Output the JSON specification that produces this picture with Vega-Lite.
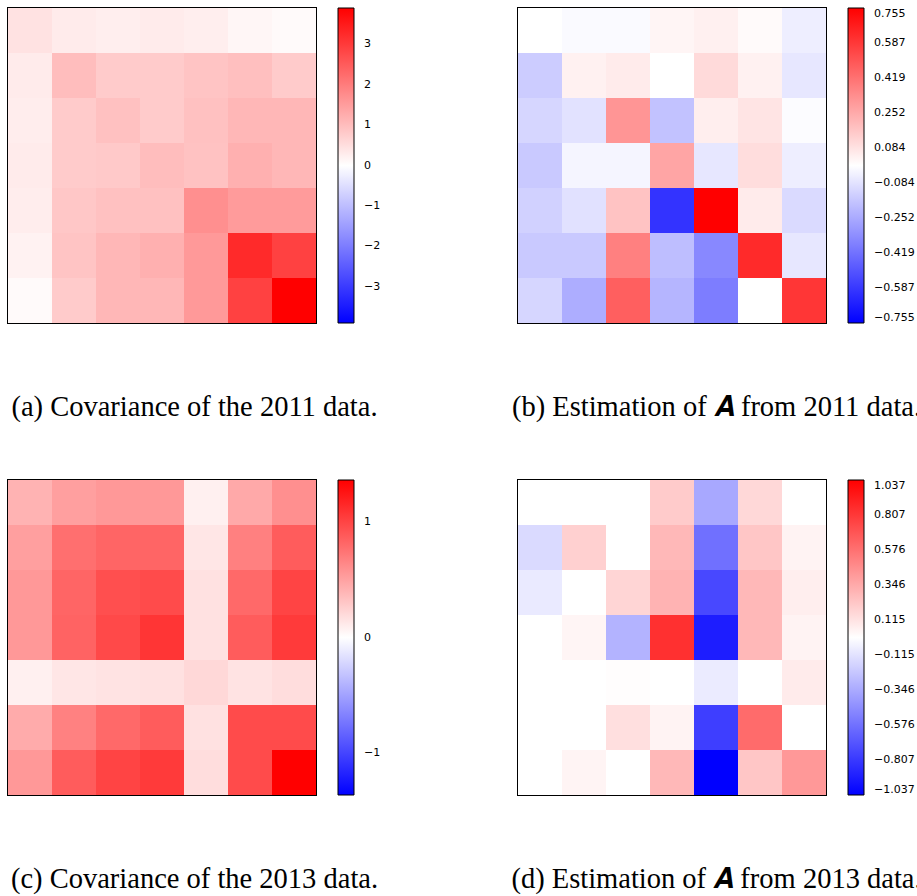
{
  "$schema": "https://vega.github.io/schema/vega-lite/v6.json",
  "padding": {"left": 7, "top": 7, "right": 0, "bottom": 0},
  "background": "white",
  "config": {
    "view": {"stroke": "black", "strokeWidth": 2},
    "legend": {"labelFont": "DejaVu Sans", "labelFontSize": 11, "labelColor": "black", "gradientLength": 315, "gradientThickness": 16, "gradientStrokeColor": "black", "gradientStrokeWidth": 1, "offset": 22, "padding": 0},
    "title": {"font": "Liberation Serif", "fontSize": 28.5, "fontWeight": "normal", "color": "black", "orient": "bottom", "anchor": "middle", "frame": "bounds", "baseline": "top", "offset": 69}
  },
  "datasets": {
    "a": [
      {"r":0,"c":0,"v":0.45},{"r":0,"c":1,"v":0.3},{"r":0,"c":2,"v":0.26},{"r":0,"c":3,"v":0.3},{"r":0,"c":4,"v":0.26},{"r":0,"c":5,"v":0.13},{"r":0,"c":6,"v":0.08},
      {"r":1,"c":0,"v":0.3},{"r":1,"c":1,"v":1.0},{"r":1,"c":2,"v":0.8},{"r":1,"c":3,"v":0.8},{"r":1,"c":4,"v":0.9},{"r":1,"c":5,"v":0.97},{"r":1,"c":6,"v":0.8},
      {"r":2,"c":0,"v":0.27},{"r":2,"c":1,"v":0.8},{"r":2,"c":2,"v":0.94},{"r":2,"c":3,"v":0.8},{"r":2,"c":4,"v":0.95},{"r":2,"c":5,"v":1.1},{"r":2,"c":6,"v":1.1},
      {"r":3,"c":0,"v":0.3},{"r":3,"c":1,"v":0.8},{"r":3,"c":2,"v":0.83},{"r":3,"c":3,"v":1.0},{"r":3,"c":4,"v":0.93},{"r":3,"c":5,"v":1.2},{"r":3,"c":6,"v":1.1},
      {"r":4,"c":0,"v":0.27},{"r":4,"c":1,"v":0.85},{"r":4,"c":2,"v":0.95},{"r":4,"c":3,"v":0.95},{"r":4,"c":4,"v":1.71},{"r":4,"c":5,"v":1.53},{"r":4,"c":6,"v":1.53},
      {"r":5,"c":0,"v":0.2},{"r":5,"c":1,"v":0.9},{"r":5,"c":2,"v":1.1},{"r":5,"c":3,"v":1.2},{"r":5,"c":4,"v":1.55},{"r":5,"c":5,"v":3.25},{"r":5,"c":6,"v":2.9},
      {"r":6,"c":0,"v":0.08},{"r":6,"c":1,"v":0.8},{"r":6,"c":2,"v":1.1},{"r":6,"c":3,"v":1.1},{"r":6,"c":4,"v":1.55},{"r":6,"c":5,"v":2.9},{"r":6,"c":6,"v":3.89}
    ],
    "b": [
      {"r":0,"c":0,"v":0.0},{"r":0,"c":1,"v":-0.015},{"r":0,"c":2,"v":-0.015},{"r":0,"c":3,"v":0.03},{"r":0,"c":4,"v":0.045},{"r":0,"c":5,"v":0.015},{"r":0,"c":6,"v":-0.05},
      {"r":1,"c":0,"v":-0.15},{"r":1,"c":1,"v":0.04},{"r":1,"c":2,"v":0.06},{"r":1,"c":3,"v":0.0},{"r":1,"c":4,"v":0.11},{"r":1,"c":5,"v":0.04},{"r":1,"c":6,"v":-0.07},
      {"r":2,"c":0,"v":-0.12},{"r":2,"c":1,"v":-0.085},{"r":2,"c":2,"v":0.314},{"r":2,"c":3,"v":-0.18},{"r":2,"c":4,"v":0.05},{"r":2,"c":5,"v":0.08},{"r":2,"c":6,"v":-0.01},
      {"r":3,"c":0,"v":-0.16},{"r":3,"c":1,"v":-0.03},{"r":3,"c":2,"v":-0.03},{"r":3,"c":3,"v":0.266},{"r":3,"c":4,"v":-0.07},{"r":3,"c":5,"v":0.1},{"r":3,"c":6,"v":-0.05},
      {"r":4,"c":0,"v":-0.137},{"r":4,"c":1,"v":-0.09},{"r":4,"c":2,"v":0.178},{"r":4,"c":3,"v":-0.604},{"r":4,"c":4,"v":0.755},{"r":4,"c":5,"v":0.06},{"r":4,"c":6,"v":-0.11},
      {"r":5,"c":0,"v":-0.16},{"r":5,"c":1,"v":-0.16},{"r":5,"c":2,"v":0.377},{"r":5,"c":3,"v":-0.192},{"r":5,"c":4,"v":-0.352},{"r":5,"c":5,"v":0.63},{"r":5,"c":6,"v":-0.07},
      {"r":6,"c":0,"v":-0.12},{"r":6,"c":1,"v":-0.243},{"r":6,"c":2,"v":0.474},{"r":6,"c":3,"v":-0.219},{"r":6,"c":4,"v":-0.385},{"r":6,"c":5,"v":0.0},{"r":6,"c":6,"v":0.595}
    ],
    "c": [
      {"r":0,"c":0,"v":0.405},{"r":0,"c":1,"v":0.51},{"r":0,"c":2,"v":0.55},{"r":0,"c":3,"v":0.55},{"r":0,"c":4,"v":0.08},{"r":0,"c":5,"v":0.46},{"r":0,"c":6,"v":0.6},
      {"r":1,"c":0,"v":0.51},{"r":1,"c":1,"v":0.77},{"r":1,"c":2,"v":0.82},{"r":1,"c":3,"v":0.82},{"r":1,"c":4,"v":0.135},{"r":1,"c":5,"v":0.68},{"r":1,"c":6,"v":0.87},
      {"r":2,"c":0,"v":0.55},{"r":2,"c":1,"v":0.82},{"r":2,"c":2,"v":0.94},{"r":2,"c":3,"v":0.96},{"r":2,"c":4,"v":0.16},{"r":2,"c":5,"v":0.8},{"r":2,"c":6,"v":1.0},
      {"r":3,"c":0,"v":0.55},{"r":3,"c":1,"v":0.83},{"r":3,"c":2,"v":0.97},{"r":3,"c":3,"v":1.08},{"r":3,"c":4,"v":0.16},{"r":3,"c":5,"v":0.87},{"r":3,"c":6,"v":1.05},
      {"r":4,"c":0,"v":0.08},{"r":4,"c":1,"v":0.135},{"r":4,"c":2,"v":0.15},{"r":4,"c":3,"v":0.16},{"r":4,"c":4,"v":0.21},{"r":4,"c":5,"v":0.15},{"r":4,"c":6,"v":0.18},
      {"r":5,"c":0,"v":0.45},{"r":5,"c":1,"v":0.67},{"r":5,"c":2,"v":0.8},{"r":5,"c":3,"v":0.87},{"r":5,"c":4,"v":0.16},{"r":5,"c":5,"v":0.96},{"r":5,"c":6,"v":0.96},
      {"r":6,"c":0,"v":0.55},{"r":6,"c":1,"v":0.87},{"r":6,"c":2,"v":1.0},{"r":6,"c":3,"v":1.05},{"r":6,"c":4,"v":0.18},{"r":6,"c":5,"v":0.96},{"r":6,"c":6,"v":1.36}
    ],
    "d": [
      {"r":0,"c":0,"v":0.0},{"r":0,"c":1,"v":0.0},{"r":0,"c":2,"v":0.0},{"r":0,"c":3,"v":0.21},{"r":0,"c":4,"v":-0.354},{"r":0,"c":5,"v":0.16},{"r":0,"c":6,"v":0.0},
      {"r":1,"c":0,"v":-0.15},{"r":1,"c":1,"v":0.19},{"r":1,"c":2,"v":0.0},{"r":1,"c":3,"v":0.29},{"r":1,"c":4,"v":-0.58},{"r":1,"c":5,"v":0.23},{"r":1,"c":6,"v":0.05},
      {"r":2,"c":0,"v":-0.085},{"r":2,"c":1,"v":0.0},{"r":2,"c":2,"v":0.17},{"r":2,"c":3,"v":0.31},{"r":2,"c":4,"v":-0.745},{"r":2,"c":5,"v":0.29},{"r":2,"c":6,"v":0.07},
      {"r":3,"c":0,"v":0.0},{"r":3,"c":1,"v":0.04},{"r":3,"c":2,"v":-0.31},{"r":3,"c":3,"v":0.84},{"r":3,"c":4,"v":-0.92},{"r":3,"c":5,"v":0.29},{"r":3,"c":6,"v":0.05},
      {"r":4,"c":0,"v":0.0},{"r":4,"c":1,"v":0.0},{"r":4,"c":2,"v":0.01},{"r":4,"c":3,"v":0.0},{"r":4,"c":4,"v":-0.08},{"r":4,"c":5,"v":0.0},{"r":4,"c":6,"v":0.08},
      {"r":5,"c":0,"v":0.0},{"r":5,"c":1,"v":0.0},{"r":5,"c":2,"v":0.13},{"r":5,"c":3,"v":0.05},{"r":5,"c":4,"v":-0.785},{"r":5,"c":5,"v":0.6},{"r":5,"c":6,"v":0.0},
      {"r":6,"c":0,"v":0.0},{"r":6,"c":1,"v":0.045},{"r":6,"c":2,"v":0.0},{"r":6,"c":3,"v":0.29},{"r":6,"c":4,"v":-1.037},{"r":6,"c":5,"v":0.23},{"r":6,"c":6,"v":0.42}
    ]
  },
  "columns": 2,
  "bounds": "flush",
  "spacing": {"column": 202, "row": 157},
  "resolve": {"scale": {"color": "independent"}, "legend": {"color": "independent"}},
  "concat": [
    {
      "data": {"name": "a"},
      "width": 308, "height": 315,
      "title": {"text": "(a) Covariance of the 2011 data."},
      "mark": {"type": "rect"},
      "encoding": {
        "x": {"field": "c", "type": "ordinal", "axis": null, "scale": {"paddingInner": 0, "paddingOuter": 0}},
        "y": {"field": "r", "type": "ordinal", "axis": null, "scale": {"paddingInner": 0, "paddingOuter": 0}},
        "color": {"field": "v", "type": "quantitative", "scale": {"domain": [-3.89, 0, 3.89], "range": ["#0000ff", "#ffffff", "#ff0000"], "interpolate": "rgb"}, "legend": {"type": "gradient", "title": null, "labelOffset": 10, "values": [-3, -2, -1, 0, 1, 2, 3], "format": "d"}}
      }
    },
    {
      "data": {"name": "b"},
      "width": 308, "height": 315,
      "title": {"text": "(b) Estimation of 𝑨 from 2011 data."},
      "mark": {"type": "rect"},
      "encoding": {
        "x": {"field": "c", "type": "ordinal", "axis": null, "scale": {"paddingInner": 0, "paddingOuter": 0}},
        "y": {"field": "r", "type": "ordinal", "axis": null, "scale": {"paddingInner": 0, "paddingOuter": 0}},
        "color": {"field": "v", "type": "quantitative", "scale": {"domain": [-0.755, 0, 0.755], "range": ["#0000ff", "#ffffff", "#ff0000"], "interpolate": "rgb"}, "legend": {"type": "gradient", "title": null, "labelOffset": 10, "values": [-0.755, -0.587, -0.419, -0.252, -0.084, 0.084, 0.252, 0.419, 0.587, 0.755], "format": ".3f"}}
      }
    },
    {
      "data": {"name": "c"},
      "width": 308, "height": 315,
      "title": {"text": "(c) Covariance of the 2013 data."},
      "mark": {"type": "rect"},
      "encoding": {
        "x": {"field": "c", "type": "ordinal", "axis": null, "scale": {"paddingInner": 0, "paddingOuter": 0}},
        "y": {"field": "r", "type": "ordinal", "axis": null, "scale": {"paddingInner": 0, "paddingOuter": 0}},
        "color": {"field": "v", "type": "quantitative", "scale": {"domain": [-1.36, 0, 1.36], "range": ["#0000ff", "#ffffff", "#ff0000"], "interpolate": "rgb"}, "legend": {"type": "gradient", "title": null, "labelOffset": 10, "values": [-1, 0, 1], "format": "d"}}
      }
    },
    {
      "data": {"name": "d"},
      "width": 308, "height": 315,
      "title": {"text": "(d) Estimation of 𝑨 from 2013 data."},
      "mark": {"type": "rect"},
      "encoding": {
        "x": {"field": "c", "type": "ordinal", "axis": null, "scale": {"paddingInner": 0, "paddingOuter": 0}},
        "y": {"field": "r", "type": "ordinal", "axis": null, "scale": {"paddingInner": 0, "paddingOuter": 0}},
        "color": {"field": "v", "type": "quantitative", "scale": {"domain": [-1.037, 0, 1.037], "range": ["#0000ff", "#ffffff", "#ff0000"], "interpolate": "rgb"}, "legend": {"type": "gradient", "title": null, "labelOffset": 10, "values": [-1.037, -0.807, -0.576, -0.346, -0.115, 0.115, 0.346, 0.576, 0.807, 1.037], "format": ".3f"}}
      }
    }
  ]
}
